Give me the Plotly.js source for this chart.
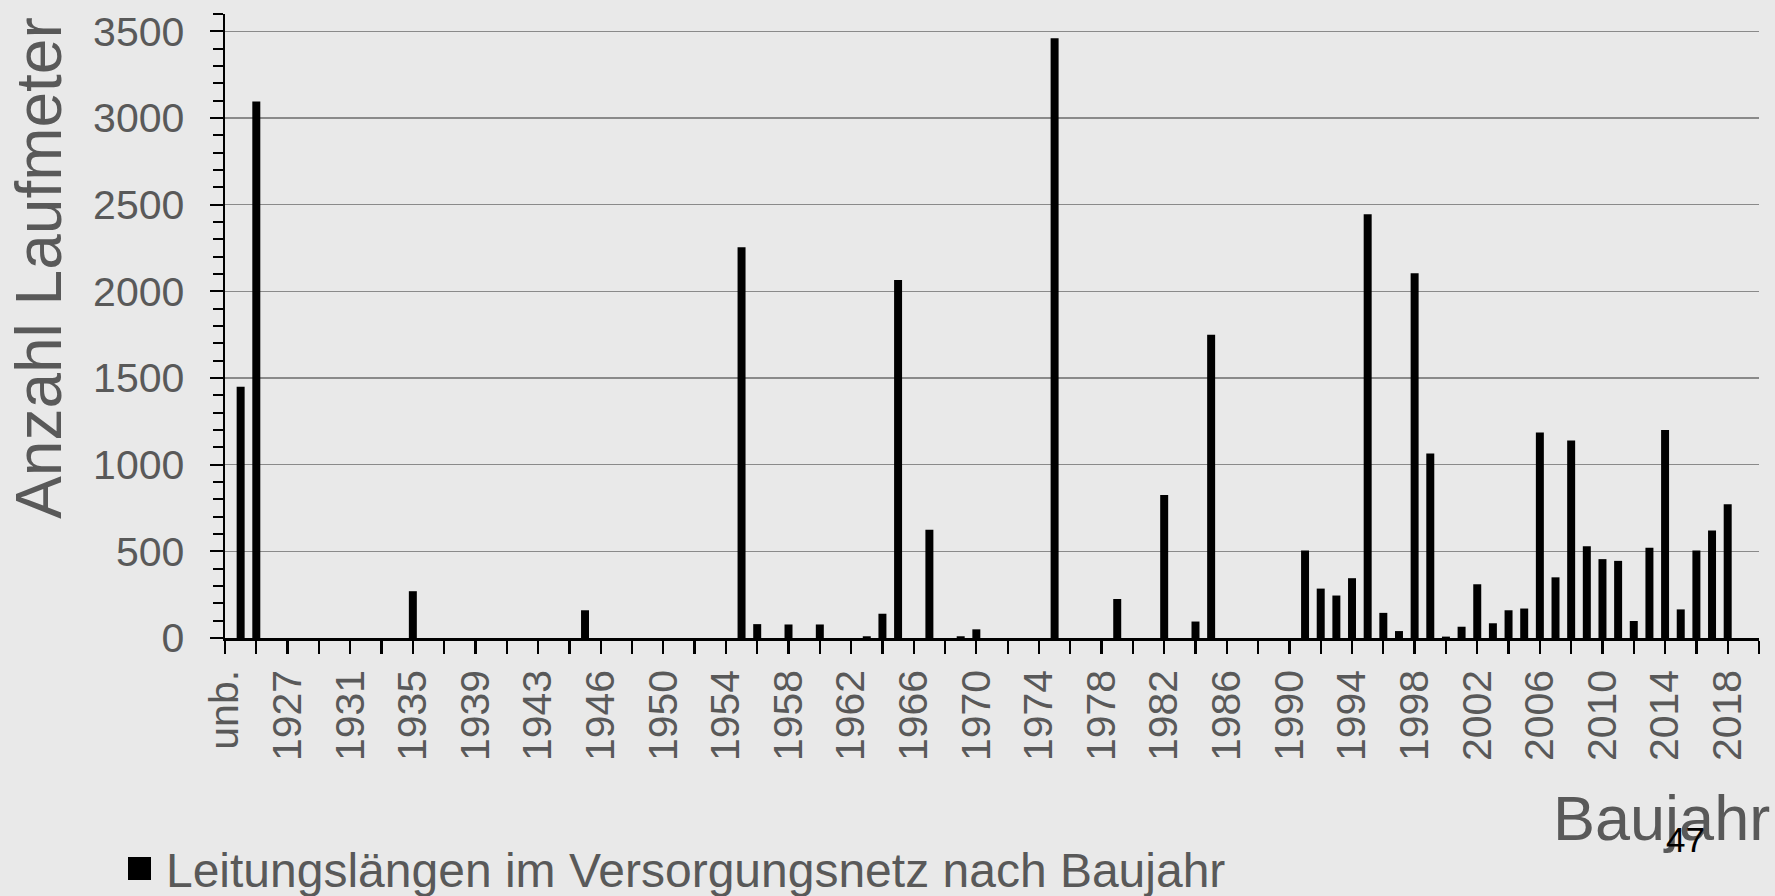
<!DOCTYPE html>
<html>
<head>
<meta charset="utf-8">
<script src="https://cdn.plot.ly/plotly-3.0.1.min.js"></script>
<style>
html,body{margin:0;padding:0;background:#e9e9e9;}
#chart{width:1775px;height:896px;}
</style>
</head>
<body>
<div id="chart"></div>
<script>
// Category slots of the x axis (one per bar position)
const categories = [
  "unb.", "1924", "1925", "1926", "1927", "1928", "1929", "1930", "1931", "1932",
  "1933", "1934", "1935", "1936", "1937", "1938", "1939", "1940", "1941", "1942",
  "1943", "1944", "1945", "1945/46", "1946", "1947", "1948", "1949", "1950", "1951",
  "1952", "1953", "1954", "1955", "1956", "1957", "1958", "1959", "1960", "1961",
  "1962", "1963", "1964", "1965", "1966", "1967", "1968", "1969", "1970", "1971",
  "1972", "1973", "1974", "1975", "1976", "1977", "1978", "1979", "1980", "1981",
  "1982", "1983", "1984", "1985", "1986", "1987", "1988", "1989", "1990", "1991",
  "1992", "1993", "1994", "1995", "1996", "1997", "1998", "1999", "2000", "2001",
  "2002", "2003", "2004", "2005", "2006", "2007", "2008", "2009", "2010", "2011",
  "2012", "2013", "2014", "2015", "2016", "2017", "2018", "2019", "2020"
];

// Leitungslängen (Laufmeter) per slot
const values = [
  0, 1450, 3095, 0, 0, 0, 0, 0, 0, 0,
  0, 0, 270, 0, 0, 0, 0, 0, 0, 0,
  0, 0, 0, 160, 0, 0, 0, 0, 0, 0,
  0, 0, 0, 2255, 80, 0, 78, 0, 78, 0,
  0, 10, 140, 2065, 0, 625, 0, 10, 50, 0,
  0, 0, 0, 3460, 0, 0, 0, 225, 0, 0,
  825, 0, 95, 1750, 0, 0, 0, 0, 0, 505,
  285, 245, 345, 2445, 145, 40, 2105, 1065, 8, 65,
  310, 85, 160, 170, 1185, 350, 1140, 530, 455, 445,
  98, 520, 1200, 165, 505, 620, 772, 0, 0
];

// Tick labels shown on the x axis
const tickLabels = [
  "unb.", "1927", "1931", "1935", "1939", "1943", "1946", "1950", "1954", "1958",
  "1962", "1966", "1970", "1974", "1978", "1982", "1986", "1990", "1994", "1998",
  "2002", "2006", "2010", "2014", "2018"
];

const seriesName = "Leitungslängen im Versorgungsnetz nach Baujahr";
const yTitle = "Anzahl Laufmeter";
const xTitle = "Baujahr";
const pageNumber = "47";

const evenCats = categories.filter((c, i) => i % 2 === 0);
const oddCats = categories.filter((c, i) => i % 2 === 1);
const evenText = evenCats.map(c => tickLabels.includes(c) ? c : "");

const W = 1775, H = 896, L = 225, R = 16.3, T = 14.3, B = 257.7;
const pw = W - L - R, ph = H - T - B;
const px = x => (x - L) / pw;
const py = y => (H - B - y) / ph;

const grey = "#595959";
const FONT = '"Liberation Sans", Arial, sans-serif';

const trace = {
  type: "bar",
  x: categories,
  y: values,
  name: seriesName,
  marker: {color: "#000000", line: {width: 0}},
  showlegend: true,
  hoverinfo: "x+y"
};

const layout = {
  width: W, height: H,
  margin: {l: L, r: R, t: T, b: B, pad: 0, autoexpand: false},
  paper_bgcolor: "#e9e9e9",
  plot_bgcolor: "#e9e9e9",
  font: {family: FONT, color: grey},
  bargap: 0.49,
  showlegend: true,
  xaxis: {
    type: "category", categoryorder: "array", categoryarray: categories,
    range: [0, categories.length - 1], automargin: false,
    tickmode: "array", tickvals: evenCats, ticktext: evenText,
    ticks: "outside", ticklen: 13, tickwidth: 2.3, tickcolor: "#000",
    tickangle: -90, tickfont: {size: 41, color: grey, family: FONT},
    showline: true, linecolor: "#000", linewidth: 2.5,
    showgrid: false, zeroline: false, fixedrange: true
  },
  xaxis2: {
    type: "category", overlaying: "x", anchor: "y", side: "bottom",
    categoryorder: "array", categoryarray: categories,
    range: [0, categories.length - 1], automargin: false,
    tickmode: "array", tickvals: oddCats, ticktext: oddCats.map(() => ""),
    ticks: "outside", ticklen: 10, tickwidth: 2.3, tickcolor: "#000",
    showticklabels: false, showline: false, showgrid: false, zeroline: false,
    fixedrange: true
  },
  yaxis: {
    range: [0, 3600], tickmode: "linear", tick0: 0, dtick: 500, automargin: false,
    ticks: "outside", ticklen: 13, tickwidth: 2.3, tickcolor: "#000",
    ticklabelstandoff: 17,
    tickfont: {size: 41, color: grey, family: FONT},
    showline: true, linecolor: "#000", linewidth: 2.5,
    showgrid: true, gridcolor: "#8a8a8a", gridwidth: 1.3, zeroline: false,
    minor: {tick0: 0, dtick: 100, ticks: "outside", ticklen: 10, tickwidth: 2.3, tickcolor: "#000", showgrid: false},
    fixedrange: true
  },
  legend: {
    orientation: "h", xanchor: "left", yanchor: "middle",
    x: px(126), y: py(868.5),
    font: {size: 48, color: grey, family: FONT},
    bgcolor: "rgba(0,0,0,0)", itemwidth: 30
  },
  annotations: [
    {text: yTitle, xref: "paper", yref: "paper", x: px(39.2), y: py(268),
     xanchor: "center", yanchor: "middle", textangle: -90, showarrow: false,
     font: {size: 64, color: grey, family: FONT}},
    {text: xTitle, xref: "paper", yref: "paper", x: px(1661), y: py(818),
     xanchor: "center", yanchor: "middle", showarrow: false,
     font: {size: 63, color: grey, family: FONT}},
    {text: pageNumber, xref: "paper", yref: "paper", x: px(1685), y: py(839.5),
     xanchor: "center", yanchor: "middle", showarrow: false,
     font: {size: 35, color: "#000000", family: FONT}}
  ]
};

// Enlarge the legend key to the square of the reference and centre it there
function fixLegendKey() {
  const paths = document.querySelectorAll("#chart .legend .legendpoints path");
  paths.forEach(p => {
    p.removeAttribute("transform");
    p.setAttribute("d", "M11.5,11.5H-11.5V-11.5H11.5Z");
    p.style.fill = "#000000";
    p.style.strokeWidth = "0px";
    const r = p.getBoundingClientRect();
    const dx = 139.5 - (r.left + r.width / 2);
    const dy = 868.5 - (r.top + r.height / 2);
    p.setAttribute("transform", "translate(" + dx.toFixed(2) + "," + dy.toFixed(2) + ")");
  });
}

Plotly.newPlot("chart", [trace], layout, {staticPlot: true, displayModeBar: false}).then(gd => {
  fixLegendKey();
  gd.on && gd.on("plotly_afterplot", fixLegendKey);
  setTimeout(fixLegendKey, 200);
  setTimeout(fixLegendKey, 800);
});
</script>
</body>
</html>
